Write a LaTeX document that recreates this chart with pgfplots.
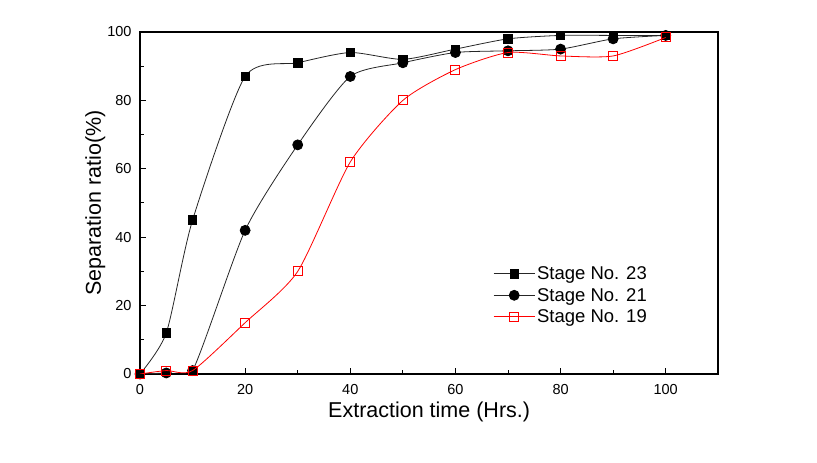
\documentclass[border=0pt]{standalone}
\usepackage{pgfplots}
\pgfplotsset{compat=1.18}
\usepackage{fontspec}
\setmainfont{Liberation Sans}

\begin{document}
\begin{tikzpicture}
  \begin{axis}[
      width=578.3bp, height=342bp, scale only axis,
      clip mode=individual,
      xmin=0, xmax=110, ymin=0, ymax=100,
      xtick={0,20,...,100}, ytick={0,20,...,100},
      minor x tick num=1, minor y tick num=1,
      tick align=inside,
      xtick pos=left, ytick pos=left,
      axis line style={line width=1.6bp},
      major tick length=6bp, minor tick length=4bp,
      tick style={line width=1bp, black},
      ticklabel style={font=\fontsize{14.5bp}{16bp}\selectfont},
      xticklabel style={yshift=-7bp},
      yticklabel style={xshift=-5bp},
      /pgf/number format/assume math mode=true,
      label style={font=\fontsize{21.5bp}{24bp}\selectfont},
      xlabel={Extraction time (Hrs.)},
      ylabel={Separation ratio(\%)},
      ylabel style={yshift=-5bp},
      legend style={draw=none, fill=none,
        at={(axis cs:66.6,32.6)}, anchor=north west,
        font=\fontsize{18.5bp}{21bp}\selectfont,
        row sep=3bp},
      legend cell align=left,
      legend image code/.code={
        \draw[mark repeat=2, mark phase=2]
          plot coordinates {(0bp,0bp) (20.5bp,0bp) (41bp,0bp)};},
    ]
    % corners of the whole picture
    \coordinate (bl) at (rel axis cs:-0.2421,-0.2602);
    \coordinate (tr) at (rel axis cs:1.1707,1.0936);

    \addplot[black!85, line width=0.8bp, smooth, tension=0.4,
      mark=square*, mark size=4.2bp,
      mark options={solid, fill=black, draw=black}]
      coordinates {(0,0)(5,12)(10,45)(20,87)(30,91)(40,94)(50,92)
                   (60,95)(70,98)(80,99)(90,99)(100,99)};
    \addlegendentry{Stage No. 23}

    \addplot[black!85, line width=0.8bp, smooth, tension=0.4,
      mark=*, mark size=5bp,
      mark options={solid, fill=black, draw=black}]
      coordinates {(0,0)(5,0.3)(10,1)(20,42)(30,67)(40,87)(50,91)
                   (60,94)(70,94.5)(80,95)(90,98)(100,99)};
    \addlegendentry{Stage No. 21}

    \addplot[red, line width=0.8bp, smooth, tension=0.4,
      mark=square, mark size=4.5bp,
      mark options={solid, fill=white, draw=red, line width=1bp}]
      coordinates {(0,0)(5,1)(10,1)(20,15)(30,30)(40,62)(50,80)
                   (60,89)(70,94)(80,93)(90,93)(100,98.4)};
    \addlegendentry{Stage No. 19}
  \end{axis}
  \path (bl) rectangle (tr);
\end{tikzpicture}
\end{document}
